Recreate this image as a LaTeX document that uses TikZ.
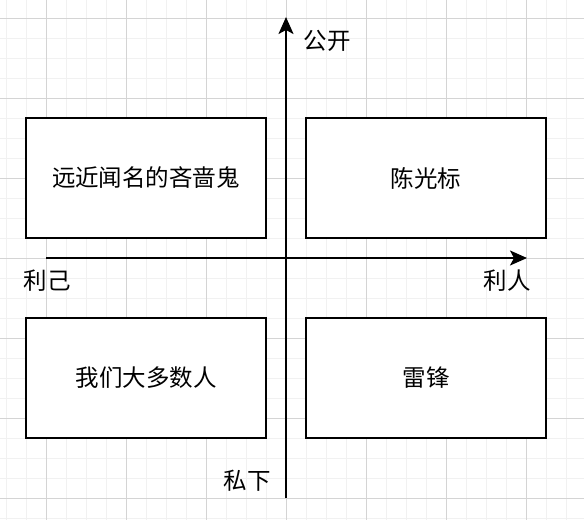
\documentclass[tikz,border=0pt]{standalone}
\usepackage{fontspec}
\setmainfont{Noto Sans CJK SC}
\usetikzlibrary{arrows.meta}
\definecolor{gridminor}{RGB}{241,241,241}
\definecolor{gridmajor}{RGB}{212,212,212}
\begin{document}
\begin{tikzpicture}[x=1pt,y=-1pt,
  quad/.style={draw=black,line width=2pt,fill=white,minimum width=240pt,minimum height=120pt,inner sep=0pt,font=\fontsize{23.5}{28}\selectfont},
  axislabel/.style={inner sep=0pt,font=\fontsize{23.5}{28}\selectfont},
  axis/.style={line width=2pt,-{Stealth[length=17pt,width=15pt,inset=4pt]}}]
\useasboundingbox (0,0) rectangle (584,520);
\fill[white] (0,0) rectangle (584,520);
% minor grid
\foreach \x in {6,26,...,586} \draw[gridminor,line width=1pt] (\x,0) -- (\x,520);
\foreach \y in {18,38,...,518} \draw[gridminor,line width=1pt] (0,\y) -- (584,\y);
% major grid
\foreach \x in {46,126,...,586} \draw[gridmajor,line width=1pt] (\x,0) -- (\x,520);
\foreach \y in {18,98,...,518} \draw[gridmajor,line width=1pt] (0,\y) -- (584,\y);
% boxes
\node[quad] (tl) at (146,178) {远近闻名的吝啬鬼};
\node[quad] (tr) at (426,178) {陈光标};
\node[quad] (bl) at (146,378) {我们大多数人};
\node[quad] (br) at (426,378) {雷锋};
% axes
\coordinate (xs) at (46,258);
\coordinate (xe) at (527,258);
\coordinate (ys) at (286,498);
\coordinate (ye) at (286,17);
\draw[axis] (xs) -- (xe);
\draw[axis] (ys) -- (ye);
% labels
\node[axislabel] (gk) at (327,41) {公开};
\node[axislabel] (lj) at (47,281) {利己};
\node[axislabel] (lr) at (507,281) {利人};
\node[axislabel] (sx) at (247,481) {私下};
\end{tikzpicture}
\end{document}
